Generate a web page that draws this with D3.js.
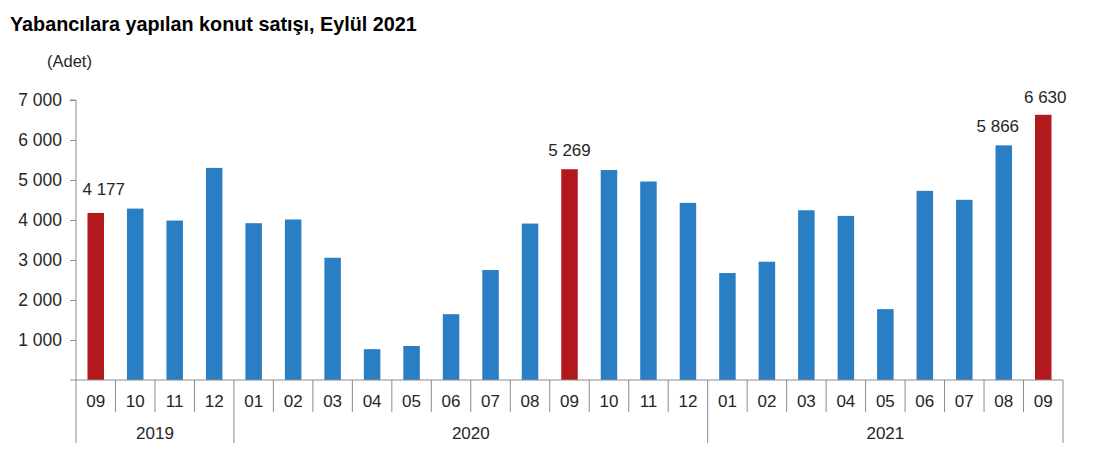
<!DOCTYPE html>
<html><head><meta charset="utf-8">
<script src="https://cdn.jsdelivr.net/npm/d3@7"></script>
<style>
html,body{margin:0;padding:0;background:#fff;}
svg{display:block;font-family:"Liberation Sans",Arial,sans-serif;}
</style></head>
<body><svg id="c" width="1094" height="470"></svg>
<script>
const months = ["09","10","11","12","01","02","03","04","05","06","07","08","09","10","11","12","01","02","03","04","05","06","07","08","09"];
const values = [4177,4285,3986,5303,3920,4013,3056,771,851,1645,2749,3911,5269,5249,4962,4428,2674,2958,4244,4103,1771,4728,4505,5866,6630];
const highlighted = [0,12,24];
const labelled = [0,12,23,24];
const years = ["2019","2020","2021"];
const yearStart = [0,4,16];
const yearEnd = [4,16,25];
const yTicks = [0,1000,2000,3000,4000,5000,6000,7000];

const svg = d3.select("#c");
const x = d3.scaleBand().domain(d3.range(months.length)).range([76,1063]).padding(0);
const y = d3.scaleLinear().domain([0,7000]).range([380,100]);
const fmt = v => d3.format(",")(v).replace(/,/g," ");
const blue = "#2a7ec3", red = "#b2191c", axisCol = "#8c8c8c", txt = "#262626";

svg.append("text").attr("x",10).attr("y",31).attr("font-weight","bold").attr("font-size",19.8).attr("fill","#000")
  .text("Yabancılara yapılan konut satışı, Eylül 2021");
svg.append("text").attr("x",47).attr("y",67).attr("font-size",16.5).attr("fill",txt).text("(Adet)");

// y axis
const yAxis = d3.axisLeft(y).tickValues(yTicks.slice(1)).tickSize(6).tickPadding(8).tickFormat(fmt);
const gy = svg.append("g").attr("transform","translate(76,0)").call(yAxis);
gy.select(".domain").attr("stroke",axisCol).attr("d","M-6,100H0V380");
gy.selectAll(".tick line").attr("stroke",axisCol);
gy.selectAll(".tick text").attr("font-size",17.5).attr("fill",txt).attr("font-family","Liberation Sans, Arial, sans-serif");

// bars
const bw = 16.5;
svg.append("g").selectAll("rect").data(values).join("rect")
  .attr("x",(d,i)=>x(i)+x.bandwidth()/2-bw/2)
  .attr("y",d=>y(d)).attr("width",bw).attr("height",d=>y(0)-y(d))
  .attr("fill",(d,i)=>highlighted.includes(i)?red:blue);

// x axis baseline
svg.append("line").attr("x1",70).attr("x2",1063).attr("y1",y(0)).attr("y2",y(0)).attr("stroke",axisCol);
// separators
const bounds = d3.range(months.length+1);
svg.append("g").selectAll("line").data(bounds).join("line")
  .attr("x1",i=>i<months.length?x(i):x.range()[1]).attr("x2",i=>i<months.length?x(i):x.range()[1])
  .attr("y1",y(0)).attr("y2",i=>(yearStart.includes(i)||i===months.length)?443:412)
  .attr("stroke",axisCol);
// month labels
svg.append("g").selectAll("text").data(months).join("text")
  .attr("x",(d,i)=>x(i)+x.bandwidth()/2).attr("y",407).attr("text-anchor","middle")
  .attr("font-size",17).attr("fill",txt).text(d=>d);
// year labels
svg.append("g").selectAll("text").data(years).join("text")
  .attr("x",(d,i)=>(x(yearStart[i]) + (yearEnd[i]<months.length?x(yearEnd[i]):x.range()[1]))/2)
  .attr("y",439).attr("text-anchor","middle").attr("font-size",17).attr("fill",txt).text(d=>d);
// value labels
const labelDx = {0:8,12:0,23:-6,24:2};
const labelDy = {0:-18,12:-13,23:-13,24:-12};
svg.append("g").selectAll("text").data(labelled).join("text")
  .attr("x",i=>x(i)+x.bandwidth()/2+labelDx[i]).attr("y",i=>y(values[i])+labelDy[i])
  .attr("text-anchor","middle").attr("font-size",17).attr("fill",txt).text(i=>fmt(values[i]));
</script></body></html>
